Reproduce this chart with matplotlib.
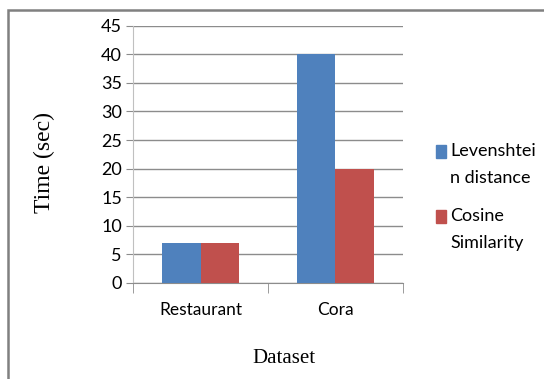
import matplotlib.pyplot as plt
import matplotlib.patches as mpatches
import numpy as np

datasets = ['Restaurant', 'Cora']
levenshtein = [7, 40]
cosine = [7, 20]
series_labels = ['Levenshtei\nn distance', 'Cosine\nSimilarity']
colors = ['#4F81BD', '#C0504D']
yticks = list(range(0, 50, 5))

plt.rcParams['font.family'] = ['Lato', 'DejaVu Sans']

fig = plt.figure(figsize=(5.44, 3.79), dpi=100)
ax = fig.add_axes([0.2445, 0.2533, 0.4963, 0.679])

x = np.arange(len(datasets))
w = 0.285
ax.bar(x - w / 2, levenshtein, w, color=colors[0], zorder=3)
ax.bar(x + w / 2, cosine, w, color=colors[1], zorder=3)

ax.set_xlim(-0.5, len(datasets) - 0.5)
ax.set_ylim(0, 45)
ax.set_yticks(yticks)
ax.yaxis.grid(True, color='#8c8c8c', linewidth=1, zorder=0)
ax.tick_params(axis='y', length=5, color='#8c8c8c', labelsize=13, pad=3)
ax.set_xticks(x)
ax.set_xticklabels(datasets)
ax.set_xticks(np.arange(-0.5, len(datasets)), minor=True)
ax.tick_params(axis='x', which='major', length=0, labelsize=12.5, pad=14)
ax.tick_params(axis='x', which='minor', length=7, color='#8c8c8c')
for s in ['top', 'right']:
    ax.spines[s].set_visible(False)
ax.spines['left'].set_color('#c0c0c0')
ax.spines['bottom'].set_color('#8c8c8c')

ax.set_ylabel('Time (sec)', family='Liberation Serif', fontsize=17)
ax.yaxis.set_label_coords(-0.29, 0.47)
ax.set_xlabel('Dataset', family='Liberation Serif', fontsize=15)
ax.xaxis.set_label_coords(0.56, -0.255)

# legend drawn by hand so the square sits by the first line
for i, (lab, c) in enumerate(zip(series_labels, colors)):
    ytop = 1 - (145 + i * 65) / 379
    fig.add_artist(mpatches.Rectangle((436 / 544, ytop - 13 / 379), 10 / 544, 13 / 379,
                                      transform=fig.transFigure, color=c))
    fig.text(450 / 544, ytop + 2 / 379, lab, fontsize=13, va='top', ha='left',
             linespacing=1.85)

# outer frame
fig.add_artist(mpatches.Rectangle((8 / 544, -0.05), 1.1, 1 - 10 / 379 + 0.05,
                                  transform=fig.transFigure, fill=False,
                                  edgecolor='#808080', linewidth=1.8))

fig.savefig('out.png', dpi=100)
